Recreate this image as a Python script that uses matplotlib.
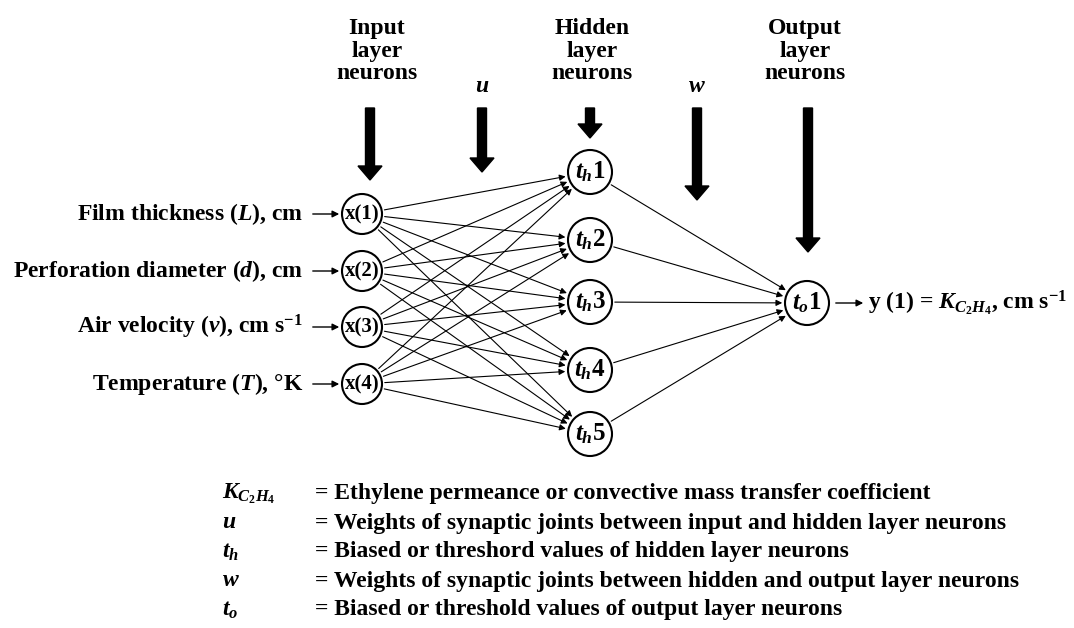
import matplotlib
matplotlib.use('Agg')
import matplotlib.pyplot as plt
import numpy as np
from matplotlib.patches import Circle, FancyArrow

plt.rcParams['font.family'] = 'Liberation Serif'
plt.rcParams['font.weight'] = 'bold'
plt.rcParams['mathtext.fontset'] = 'custom'
plt.rcParams['mathtext.rm'] = 'Liberation Serif:bold'
plt.rcParams['mathtext.it'] = 'Liberation Serif:italic:bold'
plt.rcParams['mathtext.bf'] = 'Liberation Serif:bold'

# --- network content
input_labels = ['x(1)', 'x(2)', 'x(3)', 'x(4)']
input_names = [r'Film thickness ($L$), cm', r'Perforation diameter ($d$), cm',
               r'Air velocity ($v$), cm s$^{\mathrm{-1}}$', r'Temperature ($T$), °K']
hidden_labels = [r'$t_h$1', r'$t_h$2', r'$t_h$3', r'$t_h$4', r'$t_h$5']
output_label = r'$t_o$1'
output_name = r'y (1) = $K_{C_2H_4}$, cm s$^{\mathrm{-1}}$'
headers = ['Input\nlayer\nneurons', '$u$', 'Hidden\nlayer\nneurons', '$w$', 'Output\nlayer\nneurons']
legend_sym = [r'$K_{C_2H_4}$', '$u$', '$t_h$', '$w$', '$t_o$']
legend_txt = ['= Ethylene permeance or convective mass transfer coefficient',
              '= Weights of synaptic joints between input and hidden layer neurons',
              '= Biased or threshord values of hidden layer neurons',
              '= Weights of synaptic joints between hidden and output layer neurons',
              '= Biased or threshold values of output layer neurons']

# --- layout (pixel coords)
in_x, in_y, in_r = 362, [214, 271, 327, 384], 20
hid_x, hid_y, hid_r = 590, [172, 240, 302, 370, 434], 22
out_x, out_y, out_r = 807, 303, 22
head_x = [377, 482, 592, 697, 805]
head_y = [18, 76, 18, 76, 18]
arrow_x = [370, 482, 590, 697, 808]
arrow_end = [180, 172, 138, 200, 252]

fig = plt.figure(figsize=(10.74, 6.28), dpi=100)
ax = fig.add_axes([0, 0, 1, 1])
ax.set_xlim(0, 1074)
ax.set_ylim(628, 0)
ax.axis('off')
fs = 17

def edge(x1, y1, r1, x2, y2, r2):
    d = np.hypot(x2 - x1, y2 - y1)
    ux, uy = (x2 - x1) / d, (y2 - y1) / d
    return (x1 + ux * r1, y1 + uy * r1), (x2 - ux * r2, y2 - uy * r2)

for yi in in_y:
    for yh in hid_y:
        (a, b), (c, d) = edge(in_x, yi, in_r, hid_x, yh, hid_r)
        ax.annotate('', xy=(c, d), xytext=(a, b),
                    arrowprops=dict(arrowstyle='-|>', lw=0.8, color='black', mutation_scale=9))
for yh in hid_y:
    (a, b), (c, d) = edge(hid_x, yh, hid_r, out_x, out_y, out_r)
    ax.annotate('', xy=(c, d), xytext=(a, b),
                arrowprops=dict(arrowstyle='-|>', lw=0.8, color='black', mutation_scale=9))

for yi, lab, name in zip(in_y, input_labels, input_names):
    ax.add_patch(Circle((in_x, yi), in_r, fill=False, lw=1.5))
    ax.text(in_x, yi, lab, ha='center', va='center', fontsize=15)
    ax.text(303, yi, name, ha='right', va='center', fontsize=fs)
    ax.annotate('', xy=(in_x - in_r, yi), xytext=(310, yi),
                arrowprops=dict(arrowstyle='-|>', lw=1, color='black', mutation_scale=10))
for yh, lab in zip(hid_y, hidden_labels):
    ax.add_patch(Circle((hid_x, yh), hid_r, fill=False, lw=1.5))
    ax.text(hid_x, yh, lab, ha='center', va='center', fontsize=18)
ax.add_patch(Circle((out_x, out_y), out_r, fill=False, lw=1.5))
ax.text(out_x, out_y, output_label, ha='center', va='center', fontsize=18)
ax.annotate('', xy=(866, out_y), xytext=(833, out_y),
            arrowprops=dict(arrowstyle='-|>', lw=1, color='black', mutation_scale=10))
ax.text(868, out_y, output_name, ha='left', va='center', fontsize=fs)

for hx, hy, h, axx, ae in zip(head_x, head_y, headers, arrow_x, arrow_end):
    ax.text(hx, hy, h, ha='center', va='top', fontsize=fs, linespacing=1.1)
    ax.add_patch(FancyArrow(axx, 108, 0, ae - 108, width=9, head_width=24,
                            head_length=14, length_includes_head=True, color='black'))

for i, (s, t) in enumerate(zip(legend_sym, legend_txt)):
    y = 494 + i * 29
    ax.text(222, y, s, ha='left', va='center', fontsize=fs)
    ax.text(315, y, t, ha='left', va='center', fontsize=fs)

fig.savefig('out.png', dpi=100)
